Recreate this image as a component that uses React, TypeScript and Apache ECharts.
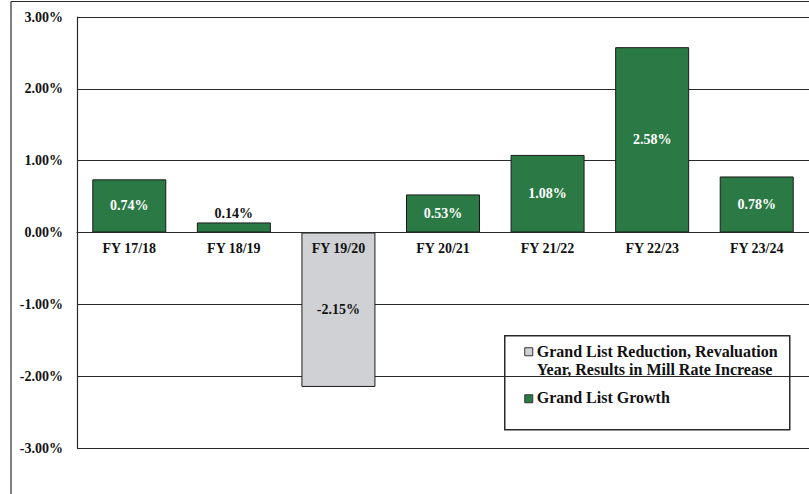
import React, { useEffect, useRef } from "react";
import * as echarts from "echarts";

const categories = ["FY 17/18", "FY 18/19", "FY 19/20", "FY 20/21", "FY 21/22", "FY 22/23", "FY 23/24"];
const growthValues: (number | null)[] = [0.74, 0.14, null, 0.53, 1.08, 2.58, 0.78];
const reductionValues: (number | null)[] = [null, null, -2.15, null, null, null, null];
const legendReduction = ["Grand List Reduction, Revaluation", "Year, Results in Mill Rate Increase"];
const legendGrowth = "Grand List Growth";

const FONT = "'Liberation Serif', 'Times New Roman', serif";
const GREEN = "#2b7a45";
const GRAY = "#cfd1d4";
const LINE = "#2a2a2a";

export default function App() {
  const ref = useRef<HTMLDivElement>(null);
  useEffect(() => {
    document.body.style.margin = "0";
    const chart = echarts.init(ref.current!, null, { renderer: "svg" });
    const pct = (v: number) => v.toFixed(2) + "%";
    const greenData = growthValues.map((v) => {
      if (v === null) return { value: null };
      const small = Math.abs(v) < 0.3;
      return {
        value: v,
        label: small
          ? { position: "top", color: "#111", distance: 2 }
          : { position: "inside", color: "#ffffff" },
      };
    });
    chart.setOption({
      animation: false,
      backgroundColor: "#ffffff",
      grid: { left: 77, top: 17, width: 734, height: 431, containLabel: false },
      xAxis: {
        type: "category",
        data: categories,
        position: "bottom",
        offset: -216,
        z: 10,
        axisLine: { show: true, onZero: false, lineStyle: { color: LINE, width: 1.2 } },
        axisTick: { show: false },
        axisLabel: { fontFamily: FONT, fontWeight: "bold", fontSize: 14, color: "#111", margin: 9 },
        splitLine: { show: false },
      },
      yAxis: {
        type: "value",
        min: -3,
        max: 3,
        interval: 1,
        z: 0,
        axisLine: { show: true, lineStyle: { color: LINE, width: 1.2 } },
        axisTick: { show: false },
        axisLabel: {
          formatter: (v: number) => pct(v),
          fontFamily: FONT,
          fontWeight: "bold",
          fontSize: 14,
          color: "#111",
          margin: 14,
        },
        splitLine: { show: true, lineStyle: { color: LINE, width: 1.2 } },
      },
      series: [
        {
          name: legendGrowth,
          type: "bar",
          data: greenData,
          barWidth: 74,
          barGap: "-100%",
          z: 3,
          itemStyle: { color: GREEN, borderColor: "#1a1a1a", borderWidth: 1 },
          label: {
            show: true,
            formatter: (p: any) => pct(p.value),
            fontFamily: FONT,
            fontWeight: "bold",
            fontSize: 14,
          },
        },
        {
          name: legendReduction.join(" "),
          type: "bar",
          data: reductionValues,
          barWidth: 74,
          barGap: "-100%",
          z: 3,
          itemStyle: { color: GRAY, borderColor: "#1a1a1a", borderWidth: 1 },
          label: {
            show: true,
            position: "inside",
            formatter: (p: any) => pct(p.value),
            fontFamily: FONT,
            fontWeight: "bold",
            fontSize: 14,
            color: "#111",
          },
        },
      ],
      graphic: [
        { type: "line", shape: { x1: 11, y1: 1.5, x2: 809, y2: 1.5 }, style: { stroke: LINE, lineWidth: 1.2 } },
        { type: "line", shape: { x1: 11, y1: 1.5, x2: 11, y2: 494 }, style: { stroke: LINE, lineWidth: 1.2 } },
        {
          type: "group",
          left: 504,
          top: 335,
          z: 20,
          children: [
            { type: "rect", shape: { x: 0, y: 0, width: 285, height: 94 }, style: { fill: "#ffffff", stroke: LINE, lineWidth: 1.5 } },
            { type: "rect", shape: { x: 20, y: 12, width: 8, height: 8 }, style: { fill: GRAY, stroke: "#333", lineWidth: 1 } },
            {
              type: "text",
              x: 32,
              y: 7,
              style: {
                text: legendReduction.join("\n"),
                font: `bold 16px ${FONT}`,
                fill: "#111",
                lineHeight: 18,
              },
            },
            { type: "rect", shape: { x: 20, y: 59, width: 8, height: 8 }, style: { fill: GREEN, stroke: "#333", lineWidth: 1 } },
            {
              type: "text",
              x: 32,
              y: 53,
              style: { text: legendGrowth, font: `bold 16px ${FONT}`, fill: "#111", lineHeight: 18 },
            },
          ],
        },
      ],
    });
    return () => chart.dispose();
  }, []);
  return <div ref={ref} style={{ position: "absolute", left: 0, top: 0, width: 809, height: 494 }} />;
}
